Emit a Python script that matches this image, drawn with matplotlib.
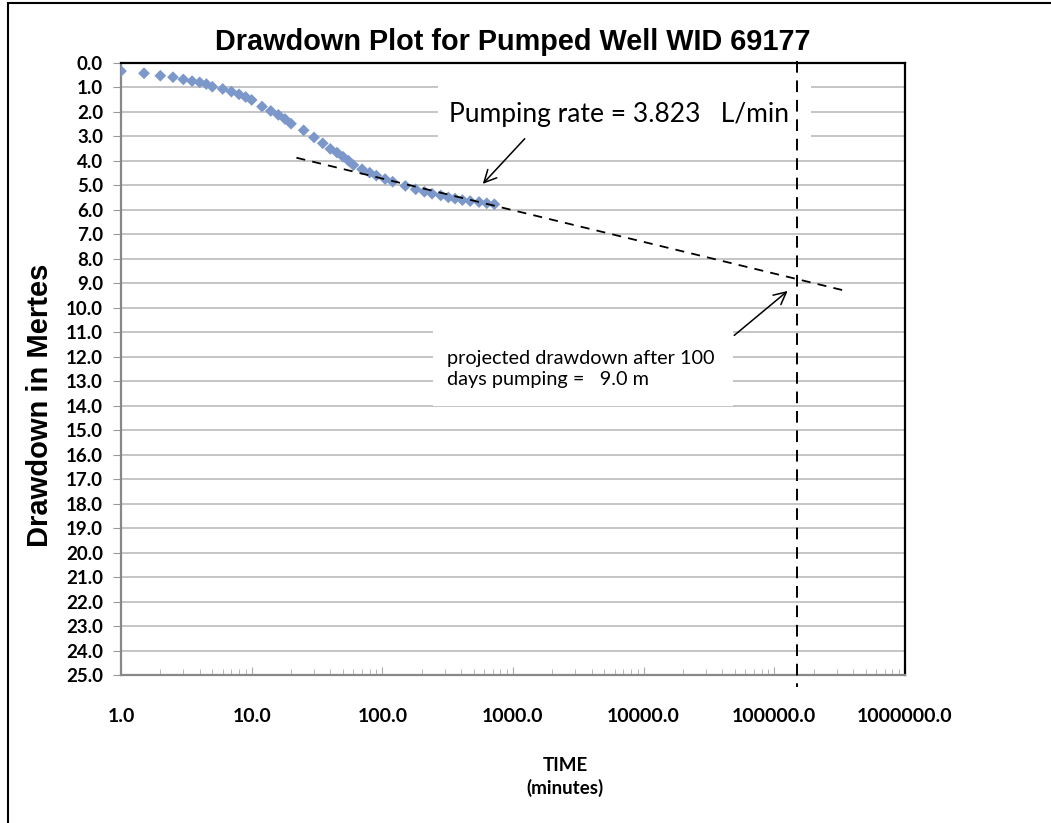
import matplotlib
matplotlib.use("Agg")
import matplotlib.pyplot as plt
from matplotlib.patches import Rectangle
from matplotlib.ticker import FixedLocator, LogLocator, NullFormatter

# pumping test readings (time in minutes, drawdown in metres)
time_min = [1, 1.5, 2, 2.5, 3, 3.5, 4, 4.5, 5, 6, 7, 8, 9, 10, 12, 14, 16, 18, 20,
            25, 30, 35, 40, 45, 50, 55, 60, 70, 80, 90, 105, 120, 150, 180, 210, 240,
            280, 320, 360, 410, 470, 550, 630, 720]
drawdown = [0.33, 0.42, 0.52, 0.58, 0.67, 0.74, 0.79, 0.86, 0.97, 1.06, 1.17, 1.28, 1.39, 1.51,
            1.78, 1.96, 2.12, 2.29, 2.48, 2.75, 3.04, 3.28, 3.51, 3.66, 3.83, 3.99, 4.17,
            4.34, 4.48, 4.60, 4.74, 4.85, 5.02, 5.16, 5.26, 5.34, 5.41, 5.49, 5.54, 5.60,
            5.64, 5.68, 5.73, 5.77]

# straight-line projection (Cooper-Jacob)
trend_t = [22, 346000]
trend_s = [3.87, 9.30]

# 100 days of pumping
proj_t = 148000

y_ticks = list(range(0, 26))
x_ticks = [1, 10, 100, 1000, 10000, 100000, 1000000]

tick_font = "Lato"
note_font = "Lato"

fig = plt.figure(figsize=(10.51, 8.23), dpi=100)
ax = fig.add_axes([121 / 1051, 1 - 675 / 823, 784 / 1051, 612 / 823])

ax.set_xscale("log")
ax.set_xlim(1, 1e6)
ax.set_ylim(25, 0)

ax.scatter(time_min, drawdown, marker="D", s=36, color="#7c98cb", edgecolors="none", zorder=4)
ax.plot(trend_t, trend_s, color="black", lw=1.3, dashes=(5, 4), zorder=5)
ax.plot([proj_t, proj_t], [-0.1, 25.5], color="black", lw=1.4, dashes=(6, 4),
        zorder=6, clip_on=False)

# grid
ax.set_yticks(y_ticks)
ax.set_yticklabels([f"{v:.1f}" for v in y_ticks], fontfamily=tick_font,
                   fontweight="bold", fontsize=13.5)
ax.yaxis.grid(True, color="#c0c0c0", lw=1.3, zorder=0)
ax.set_axisbelow(True)
ax.tick_params(axis="y", direction="out", length=6, color="#999999", pad=7)

ax.xaxis.set_major_locator(FixedLocator(x_ticks))
ax.xaxis.set_minor_locator(LogLocator(base=10, subs=range(2, 10)))
ax.xaxis.set_minor_formatter(NullFormatter())
ax.set_xticklabels([f"{v:.1f}" for v in x_ticks], fontfamily=tick_font,
                   fontweight="bold", fontsize=14)
ax.tick_params(axis="x", which="major", direction="in", length=6, color="#aaaaaa", pad=24)
ax.tick_params(axis="x", which="minor", direction="in", length=4, color="#aaaaaa")

for side in ["left", "bottom"]:
    ax.spines[side].set_color("#888888")
    ax.spines[side].set_linewidth(1.6)
for side in ["top", "right"]:
    ax.spines[side].set_color("black")
    ax.spines[side].set_linewidth(1.6)

# white boxes behind the notes (they hide the grid like in the original)
ax.add_patch(Rectangle((0.404, 0.875), 0.476, 0.11, transform=ax.transAxes,
                       facecolor="white", edgecolor="none", zorder=1))
ax.add_patch(Rectangle((0.398, 0.44), 0.382, 0.125, transform=ax.transAxes,
                       facecolor="white", edgecolor="none", zorder=1))

ax.text(6460, 2.1, "Pumping rate = 3.823   L/min", fontfamily=note_font,
        fontsize=19, ha="center", va="center", zorder=7)
ax.text(312, 12.5, "projected drawdown after 100\ndays pumping =   9.0 m",
        fontfamily=note_font, fontsize=14.3, ha="left", va="center",
        linespacing=1.3, zorder=7)

ax.annotate("", xy=(568, 5.02), xytext=(1271, 3.01),
            arrowprops=dict(arrowstyle="->", color="black", lw=1.1,
                            mutation_scale=22), zorder=7)
ax.annotate("", xy=(131300, 9.24), xytext=(47500, 11.2),
            arrowprops=dict(arrowstyle="->", color="black", lw=1.1,
                            mutation_scale=22), zorder=7)

ax.set_title("Drawdown Plot for Pumped Well WID 69177", fontfamily="Liberation Sans",
             fontweight="bold", fontsize=20.8, pad=9)
ax.set_ylabel("Drawdown in Mertes", fontfamily="Liberation Sans", fontweight="bold",
              fontsize=21)
ax.yaxis.set_label_coords(-0.086, 0.44)
fig.text(565 / 1051, 1 - 777 / 823, "TIME\n(minutes)", fontfamily=tick_font,
         fontweight="bold", fontsize=13.5, ha="center", va="center", linespacing=1.3)

# outer frame of the chart
fig.add_artist(Rectangle((8 / 1051, -0.1), 1.2, 1 - 3 / 823 + 0.1, transform=fig.transFigure,
                         facecolor="none", edgecolor="black", lw=1.5))

fig.savefig("out.png", dpi=100)
